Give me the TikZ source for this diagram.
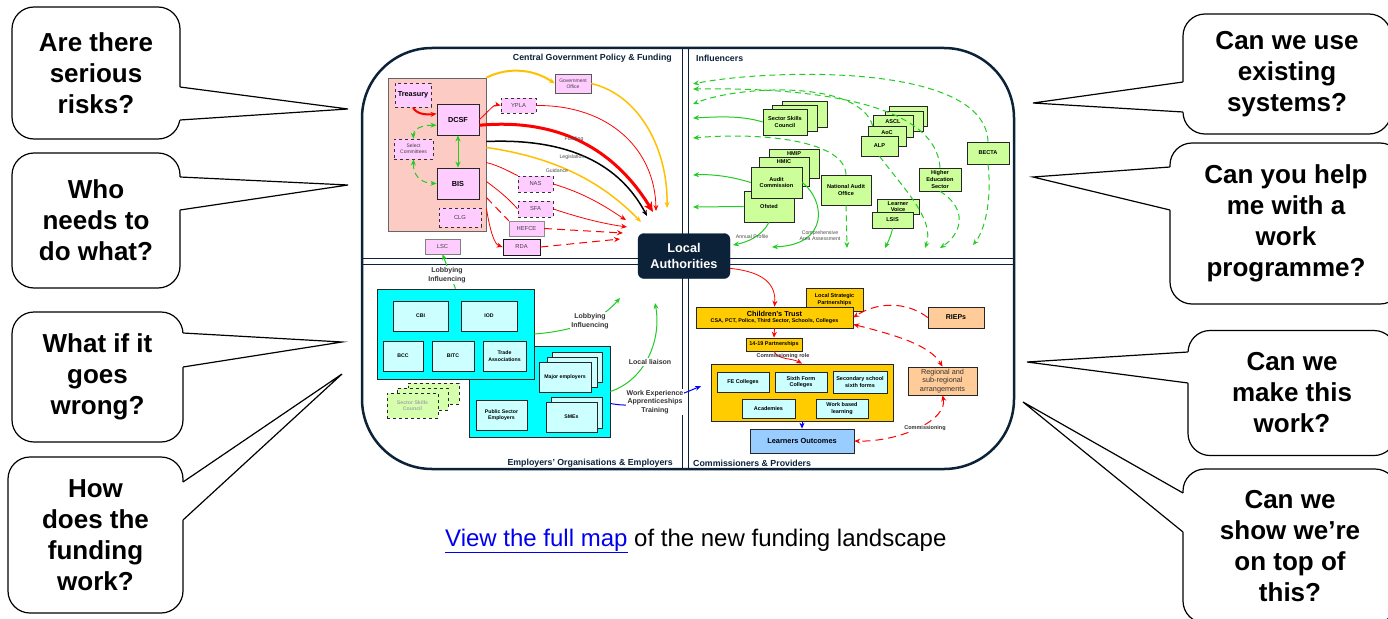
\documentclass[tikz,border=0pt]{standalone}
\usepackage{fontspec}
\setmainfont{Liberation Sans}
\usetikzlibrary{arrows.meta}
\definecolor{navy}{HTML}{0B2239}
\definecolor{pinkbg}{HTML}{FBCBC4}
\definecolor{lavender}{HTML}{FFCCFF}
\definecolor{limebox}{HTML}{CCFF99}
\definecolor{cyanbg}{HTML}{00FFFF}
\definecolor{cyanbox}{HTML}{CCFFFF}
\definecolor{gold}{HTML}{FFCC00}
\definecolor{peach}{HTML}{FFCC99}
\definecolor{skyblue}{HTML}{99CCFF}
\definecolor{amber}{HTML}{FFC000}
\definecolor{leaf}{HTML}{22CC22}
\definecolor{linkblue}{HTML}{0000EE}

\begin{document}
\begin{tikzpicture}[x=1pt,y=-1pt,>={Stealth[length=6pt,width=5pt]},
  sz/.style 2 args={minimum width=#1pt,minimum height=#2pt},
  callout/.style={draw,line width=1.2pt,fill=white,rounded corners=22pt,align=center,inner sep=0pt,font=\fontsize{26}{31}\selectfont\bfseries},
  govbox/.style={draw=black!65,fill=lavender,inner sep=1pt,align=center,font=\fontsize{5.8}{6.6}\selectfont,text=black!75},
  govdash/.style={govbox,draw=black!80,dashed,line width=0.8pt},
  govkey/.style={govbox,draw=black!85,line width=0.9pt,text=black,font=\fontsize{7.3}{8.4}\selectfont\bfseries},
  infbox/.style={draw=black!85,fill=limebox,line width=0.6pt,inner sep=1pt,align=center,font=\fontsize{5.6}{6.6}\selectfont\bfseries},
  orgbox/.style={draw=black!85,fill=cyanbox,line width=0.6pt,inner sep=1pt,align=center,font=\fontsize{5.2}{6.4}\selectfont\bfseries},
  goldbox/.style={draw=black!85,fill=gold,line width=0.6pt,inner sep=1pt,align=center,font=\fontsize{5.5}{6.5}\selectfont\bfseries},
  flowlbl/.style={inner sep=0.5pt,align=center,font=\fontsize{5.2}{6}\selectfont,text=black!70},
  linklbl/.style={fill=white,inner sep=1pt,align=center,font=\fontsize{7}{8.5}\selectfont\bfseries,text=black!80},
  quadtitle/.style={inner sep=0pt,font=\fontsize{8.8}{10}\selectfont\bfseries,text=navy},
  redline/.style={red,line width=0.8pt},
  reddash/.style={red,line width=1pt,dash pattern=on 8pt off 5pt},
  greenline/.style={leaf,line width=1pt},
  greendash/.style={leaf,line width=1pt,dash pattern=on 6pt off 4pt}]
\useasboundingbox (0,0) rectangle (1388,618);
\fill[white] (0,0) rectangle (1388,618);

\draw[navy,line width=1.6pt,double=white,double distance=4.5pt] (685.5,48) -- (685.5,469);
\draw[navy,line width=1.6pt,double=white,double distance=4.5pt] (362,261.5) -- (1014,261.5);
\draw[navy,line width=2.5pt,rounded corners=70pt] (362,48) rectangle (1014,469);

\node[quadtitle,anchor=east] (ttlgov) at (672,58) {Central Government Policy \& Funding};
\node[quadtitle,anchor=west] (ttlinf) at (696,58) {Influencers};
\node[quadtitle,anchor=east] (ttlemp) at (673,463) {Employers’ Organisations \& Employers};
\node[quadtitle,anchor=west] (ttlcom) at (693,463) {Commissioners \& Providers};

\node (govpink) at (437,154.5) [draw=black!60,fill=pinkbg,line width=0.8pt,sz={98}{153}] {};
\node (treasury) at (413,95) [govdash,text=black,font=\fontsize{7.3}{8.4}\selectfont\bfseries,sz={36}{24}] {Treasury};
\node (dcsf) at (458,119.5) [govkey,sz={42}{31}] {DCSF};
\node (selcom) at (413.5,149) [govdash,font=\fontsize{5}{6}\selectfont,sz={39}{20}] {Select\\Committees};
\node (bis) at (458,183.5) [govkey,sz={42}{31}] {BIS};
\node (clg) at (460,217.5) [govdash,sz={42}{19}] {CLG};
\node (govoff) at (573,83.5) [govbox,font=\fontsize{5}{6}\selectfont,sz={36}{19}] {Government\\Office};
\node (ypla) at (518.5,105.5) [govdash,sz={35}{15}] {YPLA};
\node (nas) at (535.5,184) [govdash,sz={35}{16}] {NAS};
\node (sfa) at (535.5,209) [govdash,sz={35}{16}] {SFA};
\node (hefce) at (526.5,228.5) [govbox,draw=black!45,sz={35}{15}] {HEFCE};
\node (rda) at (521.5,247) [govbox,draw=black!90,line width=0.8pt,sz={37}{16}] {RDA};
\node (lsc) at (442.5,246.5) [govbox,draw=black!50,sz={35}{15}] {LSC};

\coordinate (govend) at (667,208);
\coordinate (yplaend) at (656,211);
\coordinate (fundend) at (653,212);
\coordinate (legisend) at (647,216);
\coordinate (guidend) at (641,222);
\coordinate (nasend) at (626,220);
\coordinate (sfaend) at (627,227);
\coordinate (hefceend) at (623,233);
\coordinate (rdaend) at (620,239);

\draw[red,line width=2pt,->] (treasury.south) .. controls (416,114) and (426,115) .. (dcsf.165);
\draw[greendash,<->] (dcsf.195) .. controls (420,125) and (413,130) .. (selcom.north);
\draw[greendash,<->] (selcom.south) .. controls (413,175) and (420,183) .. (bis.west);
\draw[greenline,<->] (dcsf.south) -- (bis.north);
\draw[amber,line width=2pt,->] (govpink.north east) .. controls (510,66) and (535,70) .. (govoff.west);
\draw[amber,line width=1.5pt,->] (govoff.east) .. controls (640,95) and (668,150) .. (govend);
\draw[redline,->] (dcsf.east) .. controls (488,112) and (494,104) .. (ypla.west);
\draw[redline,->] (ypla.east) .. controls (610,105) and (655,150) .. (yplaend);
\draw[red,line width=3pt,-{Stealth[length=10pt,width=9pt]}] (dcsf.-15) .. controls (560,118) and (615,150) .. (fundend);
\draw[black,line width=1.5pt,->] ([yshift=13pt]govpink.east) .. controls (570,138) and (620,165) .. (legisend);
\draw[amber,line width=1.5pt,->] ([yshift=7pt]govpink.east) .. controls (560,158) and (605,185) .. (guidend);
\draw[redline] ([yshift=-8pt]govpink.east) .. controls (500,166) and (510,172) .. (nas.north west);
\draw[redline,->] (nas.east) .. controls (590,195) and (610,210) .. (nasend);
\draw[redline] ([yshift=-27pt]govpink.east) .. controls (498,190) and (508,198) .. (sfa.west);
\draw[redline,->] (sfa.east) .. controls (580,218) and (605,224) .. (sfaend);
\draw[reddash] ([yshift=-43pt]govpink.east) -- (hefce.north west);
\draw[reddash,->] (hefce.east) -- (hefceend);
\draw[redline,->] ([yshift=-54pt]govpink.east) .. controls (490,230) and (494,244) .. (rda.west);
\draw[reddash,->] (rda.east) -- (rdaend);
\node[flowlbl] (lfund) at (574,139) {Funding};
\node[flowlbl] (llegis) at (572,157) {Legislation};
\node[flowlbl] (lguid) at (557,171) {Guidance};

\node (sscc) at (804.5,114) [infbox,sz={45}{26}] {};
\node (sscb) at (794.5,118.5) [infbox,sz={45}{26}] {};
\node (ssc) at (785,122) [infbox,sz={44}{26}] {Sector Skills\\Council};
\node (asclc) at (908,116) [infbox,sz={38}{20}] {};
\node (asclb) at (904,121) [infbox,sz={38}{20}] {};
\node (ascl) at (893,126) [infbox,sz={40}{22},text height=5pt,text depth=11pt,inner ysep=2pt] {ASCL};
\node (aoc) at (887,136) [infbox,sz={38}{20},text height=5pt,text depth=9pt,inner ysep=2pt] {AoC};
\node (alp) at (879.5,146) [infbox,sz={37}{20}] {ALP};
\node (ofsted) at (769,206.5) [infbox,sz={50}{31}] {Ofsted};
\node (hmip) at (794,163.5) [infbox,sz={50}{29},text height=4pt,text depth=20pt,inner ysep=2pt] {HMIP};
\node (hmic) at (784,171.5) [infbox,sz={50}{29},text height=4pt,text depth=20pt,inner ysep=2pt] {HMIC};
\node (audit) at (776.5,182.5) [infbox,sz={51}{31}] {Audit\\Commission};
\node (nao) at (846,190) [infbox,sz={50}{30}] {National Audit\\Office};
\node (hes) at (940,179.5) [infbox,sz={42}{23}] {Higher\\Education\\Sector};
\node (lvoice) at (898,206.5) [infbox,sz={42}{15}] {Learner\\Voice};
\node (lsis) at (892.5,220) [infbox,sz={41}{16}] {LSIS};
\node (becta) at (988,153) [infbox,sz={42}{22}] {BECTA};

\coordinate (bectaend) at (693,84);
\coordinate (hesend) at (693,89);
\coordinate (asclend) at (693,104);
\coordinate (naoend) at (693,138);
\coordinate (sscend) at (693,118);
\coordinate (auditend) at (693,175);
\coordinate (ofstedend) at (693,207);
\coordinate (profend) at (733,245);
\coordinate (caaend) at (772,247);
\coordinate (naodown) at (847,248);
\coordinate (lsisdown) at (885,248);
\coordinate (alpdown) at (925,248);
\coordinate (hesdown) at (940,248);
\coordinate (bectadown) at (973,245);

\draw[greendash,->] (becta.north) .. controls (985,60) and (760,70) .. (bectaend);
\draw[greendash,->] (hes.north) .. controls (935,90) and (760,88) .. (hesend);
\draw[greendash,->] (ascl.west) .. controls (860,80) and (740,85) .. (asclend);
\draw[greendash,->] (nao.north) .. controls (845,140) and (760,132) .. (naoend);
\draw[greenline,->] (ssc.west) .. controls (740,115) and (715,117) .. (sscend);
\draw[greenline,->] (audit.west) .. controls (730,176) and (710,174) .. (auditend);
\draw[greenline,->] (ofsted.west) -- (ofstedend);
\draw[greenline,->] (ofsted.south) .. controls (762,236) and (748,242) .. (profend);
\draw[greenline,->] (audit.east) .. controls (825,200) and (830,245) .. (caaend);
\draw[greendash,->] (nao.south) -- (naodown);
\draw[greenline,->] (lsis.south) .. controls (891,236) and (888,242) .. (lsisdown);
\draw[greendash,->] (alp.south) .. controls (905,190) and (935,220) .. (alpdown);
\draw[greendash,->] (hes.south) .. controls (970,210) and (960,235) .. (hesdown);
\draw[greendash,->] (becta.south) .. controls (992,200) and (985,230) .. (bectadown);
\node[flowlbl] (lprof) at (752,237) {Annual Profile};
\node[flowlbl] (lcaa) at (820,236) {Comprehensive\\Area Assessment};

\node (emp) at (539.5,391.5) [draw=black!85,fill=cyanbg,line width=0.8pt,sz={141}{91}] {};
\node (emporg) at (455.5,334) [draw=black!85,fill=cyanbg,line width=0.8pt,sz={157}{90}] {};
\node (cbi) at (420.5,316) [orgbox,sz={55}{30}] {CBI};
\node (iod) at (489,316) [orgbox,sz={56}{30}] {IOD};
\node (bcc) at (403,356) [orgbox,sz={40}{30}] {BCC};
\node (bitc) at (453,356) [orgbox,sz={42}{30}] {BITC};
\node (trade) at (504.5,356) [orgbox,sz={43}{30}] {Trade\\Associations};
\node (ssce) at (433.5,393.5) [orgbox,fill=limebox!80,dashed,sz={51}{21}] {};
\node (sscd) at (422.5,399) [orgbox,fill=limebox!80,dashed,sz={51}{22}] {};
\node (sscemp) at (412.5,405.5) [orgbox,fill=limebox!80,dashed,text=black!35,sz={51}{25}] {Sector Skills\\Council};
\node (majorc) at (577,367) [orgbox,sz={50}{30}] {};
\node (majorb) at (572,372) [orgbox,sz={50}{30}] {};
\node (major) at (565,377) [orgbox,sz={52}{30}] {Major employers};
\node (pse) at (501.5,415) [orgbox,sz={51}{30}] {Public Sector\\Employers};
\node (smesb) at (576.5,412.5) [orgbox,sz={51}{31}] {};
\node (smes) at (571.5,417) [orgbox,sz={51}{30}] {SMEs};

\coordinate (lobbyend) at (620,298);
\coordinate (liaisonend) at (655,303);
\coordinate (workend) at (701,386);

\draw[greenline,->] (emporg.north) -- (lsc.south);
\draw[greenline,->] (emporg.east) .. controls (585,330) and (605,315) .. (lobbyend);
\draw[greenline,->] (emp.east) .. controls (645,380) and (662,340) .. (liaisonend);
\draw[blue,line width=1pt,->] ([yshift=-12pt]emp.east) .. controls (645,410) and (680,395) .. (workend);
\node[linklbl] (llobby) at (447,275) {Lobbying\\Influencing};
\node[linklbl] (llobbyla) at (590,321) {Lobbying\\Influencing};
\node[linklbl] (lliaison) at (650,362) {Local liaison};
\node[linklbl] (lwork) at (655,402) {Work Experience\\Apprenticeships\\Training};

\node (lsp) at (834.5,299.5) [goldbox,sz={57}{23}] {Local Strategic\\Partnerships};
\node (ctrust) at (774.5,317.5) [goldbox,sz={157}{21}] {{\fontsize{7.3}{8.4}\selectfont Children’s Trust}\\{\fontsize{5.4}{6.2}\selectfont CSA, PCT, Police, Third Sector, Schools, Colleges}};
\node (rieps) at (956,317.5) [goldbox,fill=peach,font=\fontsize{7}{8}\selectfont\bfseries,sz={56}{21}] {RIEPs};
\node (p1419) at (774,344.5) [goldbox,sz={56}{13}] {14-19 Partnerships};
\node (provs) at (802,392.5) [goldbox,line width=0.8pt,sz={182}{57}] {};
\node (fe) at (743,382) [orgbox,font=\fontsize{5.5}{6.5}\selectfont\bfseries,sz={52}{20}] {FE Colleges};
\node (sixth) at (801,382) [orgbox,font=\fontsize{5.5}{6.5}\selectfont\bfseries,sz={52}{20}] {Sixth Form\\Colleges};
\node (secsch) at (860,382) [orgbox,font=\fontsize{5.5}{6.5}\selectfont\bfseries,line width=0.9pt,sz={54}{22}] {Secondary school\\sixth forms};
\node (acad) at (768.5,408.5) [orgbox,font=\fontsize{5.5}{6.5}\selectfont\bfseries,sz={53}{19}] {Academies};
\node (wbl) at (842,408.5) [orgbox,font=\fontsize{5.5}{6.5}\selectfont\bfseries,sz={52}{19}] {Work based\\learning};
\node (learn) at (802,441) [goldbox,fill=skyblue,font=\fontsize{7.4}{8.4}\selectfont\bfseries,sz={104}{24}] {Learners Outcomes};
\node (regional) at (942.5,381) [goldbox,fill=peach,font=\fontsize{7.3}{8.5}\selectfont,text=black!80,sz={69}{28}] {Regional and\\sub-regional\\arrangements};
\node (la) at (684,256) [fill=navy,draw=navy,rounded corners=6pt,text=white,align=center,font=\fontsize{12.7}{16}\selectfont\bfseries,sz={92}{45}] {Local\\Authorities};

\draw[redline,->] (la.-15) .. controls (765,272) and (776,285) .. (ctrust.north);
\draw[redline,->] (ctrust.south) -- (p1419.north);
\draw[redline,->] (p1419.south) .. controls (778,360) and (792,358) .. (provs.north);
\draw[blue,line width=1pt,->] (provs.south) -- (learn.north);
\draw[reddash,->] (rieps.west) .. controls (905,300) and (875,303) .. (ctrust.east);
\draw[reddash,<->] (ctrust.-5) .. controls (895,335) and (930,345) .. (regional.north);
\draw[reddash,<->] (regional.south) .. controls (948,420) and (900,442) .. (learn.east);
\node[flowlbl,text=black!80,font=\fontsize{5.5}{6.5}\selectfont\bfseries] (lrole) at (783,356) {Commissioning role};
\node[flowlbl,fill=white,text=black!80,font=\fontsize{5.5}{6.5}\selectfont\bfseries] (lcomm) at (925,428) {Commissioning};

\node[callout,sz={168}{132}] (qrisks) at (96,73) {Are there\\serious\\risks?};
\node[callout,sz={168}{135}] (qwho) at (96,220.5) {Who\\needs to\\do what?};
\node[callout,sz={171}{130}] (qwrong) at (97.5,377) {What if it\\goes\\wrong?};
\node[callout,sz={175}{156}] (qfund) at (95.5,535) {How\\does the\\funding\\work?};
\node[callout,sz={208}{120}] (qsys) at (1287,74) {Can we use\\existing\\systems?};
\node[callout,sz={232}{161}] (qprog) at (1286,223.5) {Can you help\\me with a\\work\\programme?};
\node[callout,sz={208}{125}] (qmake) at (1292,393) {Can we\\make this\\work?};
\node[callout,sz={214}{154}] (qtop) at (1290,546) {Can we\\show we’re\\on top of\\this?};

\coordinate (tiprisks) at (348,109);
\coordinate (tipwho) at (348,185);
\coordinate (tipwrong) at (342,342);
\coordinate (tipfund) at (342,374);
\coordinate (tipsys) at (1033,103);
\coordinate (tipprog) at (1033,177);
\coordinate (tipmake) at (1027,362);
\coordinate (tiptop) at (1023,402);

\fill[white] (177,87) -- (181,87) -- (tiprisks) -- (181,120) -- (177,120) -- cycle;
\draw[line width=1.2pt] (180,87) -- (tiprisks) -- (180,120);
\fill[white] (177,177) -- (181,177) -- (tipwho) -- (181,210) -- (177,210) -- cycle;
\draw[line width=1.2pt] (180,177) -- (tipwho) -- (180,210);
\fill[white] (180,333) -- (184,333) -- (tipwrong) -- (184,367) -- (180,367) -- cycle;
\draw[line width=1.2pt] (183,333) -- (tipwrong) -- (183,367);
\fill[white] (180,482) -- (184,482) -- (tipfund) -- (184,520) -- (180,520) -- cycle;
\draw[line width=1.2pt] (183,482) -- (tipfund) -- (183,520);
\fill[white] (1186,82) -- (1182,82) -- (tipsys) -- (1182,112) -- (1186,112) -- cycle;
\draw[line width=1.2pt] (1183,82) -- (tipsys) -- (1183,112);
\fill[white] (1173,167) -- (1169,167) -- (tipprog) -- (1169,210) -- (1173,210) -- cycle;
\draw[line width=1.2pt] (1170,167) -- (tipprog) -- (1170,210);
\fill[white] (1191,352) -- (1187,352) -- (tipmake) -- (1187,383) -- (1191,383) -- cycle;
\draw[line width=1.2pt] (1188,352) -- (tipmake) -- (1188,383);
\fill[white] (1186,493) -- (1182,493) -- (tiptop) -- (1182,532) -- (1186,532) -- cycle;
\draw[line width=1.2pt] (1183,493) -- (tiptop) -- (1183,532);

\node[anchor=west,inner sep=0pt,font=\fontsize{24}{28}\selectfont] (maplink) at (445,541) {{\color{linkblue}\underline{View the full map}} of the new funding landscape};
\end{tikzpicture}
\end{document}
